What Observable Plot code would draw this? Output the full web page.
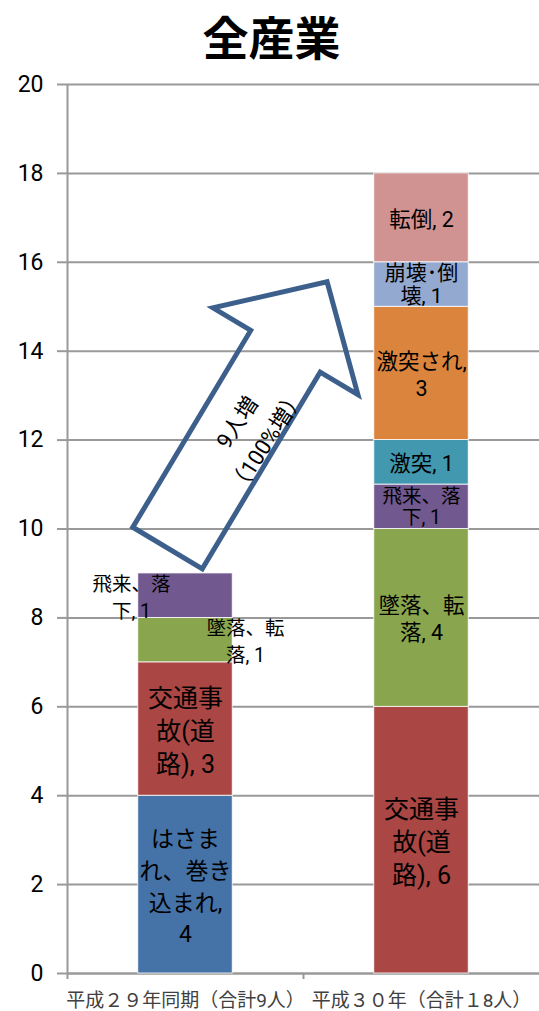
<!DOCTYPE html>
<html><head><meta charset="utf-8">
<script src="https://cdn.jsdelivr.net/npm/d3@7"></script>
<script src="https://cdn.jsdelivr.net/npm/@observablehq/plot@0.6"></script>
<style>
body{margin:0;background:#fff;}
#title{height:70px;line-height:70px;text-align:center;font-size:46px;font-weight:bold;font-family:"Noto Sans CJK JP",sans-serif;color:#000;padding-left:4px;}
</style></head><body>
<div id="title">全産業</div>
<div id="chart"></div>
<script>
// ---- data ----
const periods = ["平成２９年同期（合計9人）", "平成３０年（合計１8人）"];
const causes = ["はさまれ、巻き込まれ", "交通事故(道路)", "墜落、転落", "飛来、落下", "激突", "激突され", "崩壊･倒壊", "転倒"];
const counts2017 = [4, 3, 1, 1, 0, 0, 0, 0];
const counts2018 = [0, 6, 4, 1, 1, 3, 1, 2];
const yTicks = [0, 2, 4, 6, 8, 10, 12, 14, 16, 18, 20];
const increaseText = ["9人増", "（100%増）"];

// ---- presentation ----
const colors = ["#4572a7", "#aa4643", "#89a54e", "#71588f", "#4198af", "#db843d", "#93a9cf", "#d19392"];
const labelWrap = {
  "はさまれ、巻き込まれ": "はさま\nれ、巻き\n込まれ,\n{v}",
  "交通事故(道路)": "交通事\n故(道\n路), {v}",
  "墜落、転落": "墜落、転\n落, {v}",
  "飛来、落下": "飛来、落\n下, {v}",
  "激突": "激突, {v}",
  "激突され": "激突され,\n{v}",
  "崩壊･倒壊": "崩壊･倒\n壊, {v}",
  "転倒": "転倒, {v}"
};
const FONT = "Roboto, 'Noto Sans CJK JP', sans-serif";
const GRID = "#999";
const barHalf = 0.2;

// stack rows
const rows = [];
[counts2017, counts2018].forEach((counts, p) => {
  let base = 0;
  counts.forEach((v, c) => {
    if (!v) return;
    rows.push({period: periods[p], p, cause: causes[c], c, value: v, y1: base, y2: base + v,
      label: labelWrap[causes[c]].replace("{v}", v)});
    base += v;
  });
});

const labelGroups = [
  {test: r => r.c === 0, fontSize: 23, lineHeight: 1.38, dx: 0},
  {test: r => r.c === 1, fontSize: 25, lineHeight: 1.32, dx: 0},
  {test: r => r.p === 1 && [2, 4, 5, 7].includes(r.c), fontSize: 21.5, lineHeight: 1.27, dx: 0},
  {test: r => r.p === 1 && r.c === 3, fontSize: 19.5, lineHeight: 1.08, dx: 0},
  {test: r => r.p === 1 && r.c === 6, fontSize: 21, lineHeight: 1.08, dx: 0},
  {test: r => r.p === 0 && r.c === 3, fontSize: 19.5, lineHeight: 1.38, dx: -54},
  {test: r => r.p === 0 && r.c === 2, fontSize: 19.5, lineHeight: 1.38, dx: 60}
];

// arrow annotation (anchors in data space)
const arrowFrom = [0.426, 9.56], arrowTo = [1.102, 15.55];
function increaseArrow(index, scales) {
  const {x, y} = scales;
  const tx = x(arrowFrom[0]), ty = y(arrowFrom[1]);
  const px = x(arrowTo[0]), py = y(arrowTo[1]);
  const ddx = px - tx, ddy = py - ty, len = Math.hypot(ddx, ddy);
  const u = [ddx / len, ddy / len], n = [-u[1], u[0]];
  const w = 40.5, h = 84.5, headLen = 81, shaft = len - headLen;
  const pt = (a, b) => [tx + u[0] * a + n[0] * b, ty + u[1] * a + n[1] * b];
  const pts = [pt(0, -w), pt(0, w), pt(shaft, w), pt(shaft, h), pt(len, 0), pt(shaft, -h), pt(shaft, -w)];
  const g = d3.create("svg:g");
  g.append("path").attr("d", "M" + pts.join("L") + "Z")
    .attr("fill", "none").attr("stroke", "#3d5f8c").attr("stroke-width", 5).attr("stroke-linejoin", "miter");
  const angle = Math.atan2(ddy, ddx) * 180 / Math.PI + 2;
  const c = pt(143, 12.5);
  const lh = 35;
  const t = g.append("text").attr("transform", `translate(${c[0]},${c[1]}) rotate(${angle})`)
    .attr("text-anchor", "middle").attr("font-size", 22).attr("font-family", FONT).attr("fill", "#000");
  increaseText.forEach((s, i) => t.append("tspan").attr("x", 0)
    .attr("y", (i - (increaseText.length - 1) / 2) * lh).attr("dy", "0.35em").text(s));
  return g.node();
}

const chart = Plot.plot({
  width: 539, height: 941,
  marginLeft: 67, marginRight: 0, marginTop: 14, marginBottom: 38,
  style: {fontFamily: FONT, color: "#000", background: "#fff", overflow: "visible"},
  x: {domain: [0, periods.length]},
  y: {domain: [0, 20]},
  marks: [
    Plot.gridY({ticks: yTicks, stroke: GRID, strokeOpacity: 1, strokeWidth: 2}),
    Plot.axisY({ticks: yTicks, tickSize: 10, tickPadding: 14, fontSize: 23, stroke: GRID, strokeWidth: 2, label: null}),
    Plot.ruleX([0], {stroke: GRID, strokeWidth: 2}),
    Plot.ruleY([0], {stroke: GRID, strokeWidth: 2}),
    Plot.axisX({ticks: [0, 1], tickSize: 6, tickFormat: () => "", stroke: GRID, strokeWidth: 2, label: null}),
    Plot.text(periods, {x: (d, i) => i + 0.5, y: () => 0, dy: 27, lineAnchor: "middle", fontSize: 19, fill: "#404040", fontFamily: FONT}),
    Plot.rect(rows, {x1: r => r.p + 0.5 - barHalf, x2: r => r.p + 0.5 + barHalf, y1: "y1", y2: "y2",
      fill: r => colors[r.c], stroke: "#fff", strokeWidth: 0.8}),
    ...labelGroups.map(g => Plot.text(rows.filter(g.test), {
      x: r => r.p + 0.5, y: r => (r.y1 + r.y2) / 2, text: "label", dx: g.dx,
      fontSize: g.fontSize, lineHeight: g.lineHeight, lineAnchor: "middle", textAnchor: "middle", fill: "#000", fontFamily: FONT
    })),
    increaseArrow
  ]
});
document.getElementById("chart").appendChild(chart);
</script>
</body></html>
